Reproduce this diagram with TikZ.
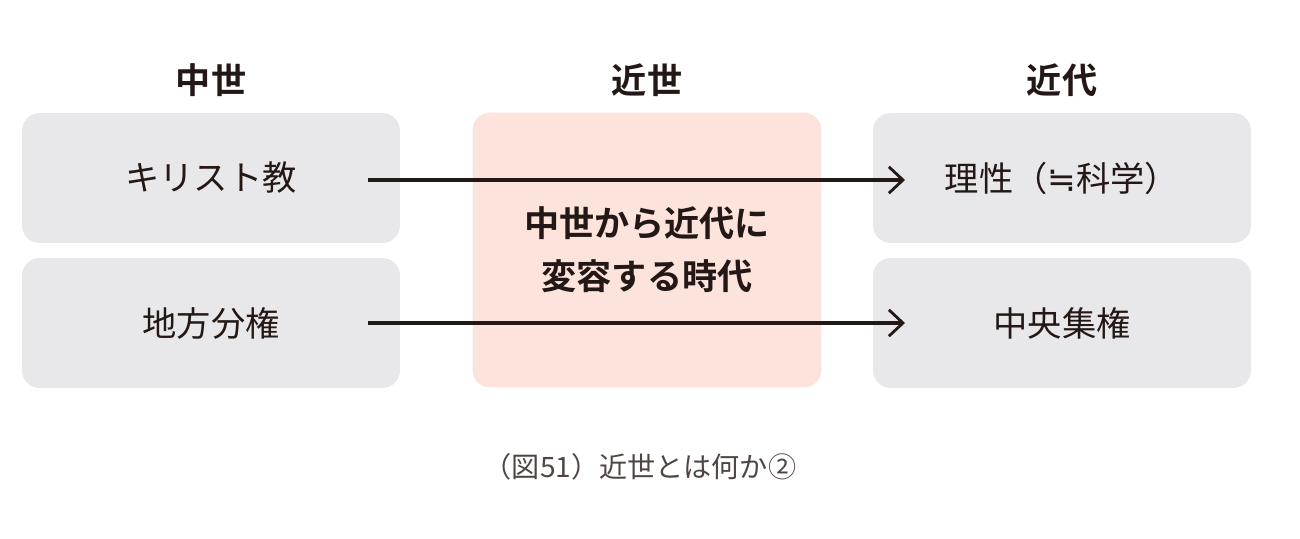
\documentclass[tikz,border=0pt]{standalone}
\usepackage{fontspec}
\setmainfont{Noto Sans CJK JP}[BoldFont={* Bold}]
\newfontfamily\symfont{DejaVu Sans}
\usetikzlibrary{arrows.meta}
\definecolor{boxgray}{HTML}{E8E8EA}
\definecolor{peach}{HTML}{FCE4DC}
\definecolor{ink}{HTML}{231815}
\tikzset{
  era/.style={font=\fontsize{20}{24}\selectfont\bfseries, text=ink},
  item/.style={fill=boxgray, rounded corners=10pt, minimum width=7.56cm, minimum height=2.6cm,
    font=\fontsize{19.5}{24}\selectfont, text=ink},
  flow/.style={-{Straight Barb[length=8pt,width=15pt,line width=1.6pt]}, line width=1.8pt, draw=ink}
}
\begin{document}
\begin{tikzpicture}[x=0.02cm, y=-0.02cm]
        \useasboundingbox (0,0) rectangle (1300,538);
        % HEADERS
        \node[era] (medieval) at (211,80) {中世};
        \node[era] (early) at (647,80) {近世};
        \node[era] (modern) at (1062,80) {近代};
        % BOXES
        \node[item] (christ) at (211,178) {キリスト教};
        \node[item] (local) at (211,323) {地方分権};
        \node[fill=peach, rounded corners=10pt, minimum width=6.98cm, minimum height=5.5cm,
          align=center, font=\fontsize{20}{30}\selectfont\bfseries, text=ink] (shift) at (647,250)
          {中世から近代に\\変容する時代};
        \node[item] (reason) at (1062,178) {理性（{\symfont ≒}科学）};
        \node[item] (central) at (1062,323) {中央集権};
        % ARROWS
        \draw[flow] (368,180) -- (905,180);
        \draw[flow] (368,323) -- (905,323);
        % CAPTION
        \node[font=\fontsize{16}{20}\selectfont, text=ink!80] (caption) at (640,467) {（図51）近世とは何か②};
\end{tikzpicture}
\end{document}
